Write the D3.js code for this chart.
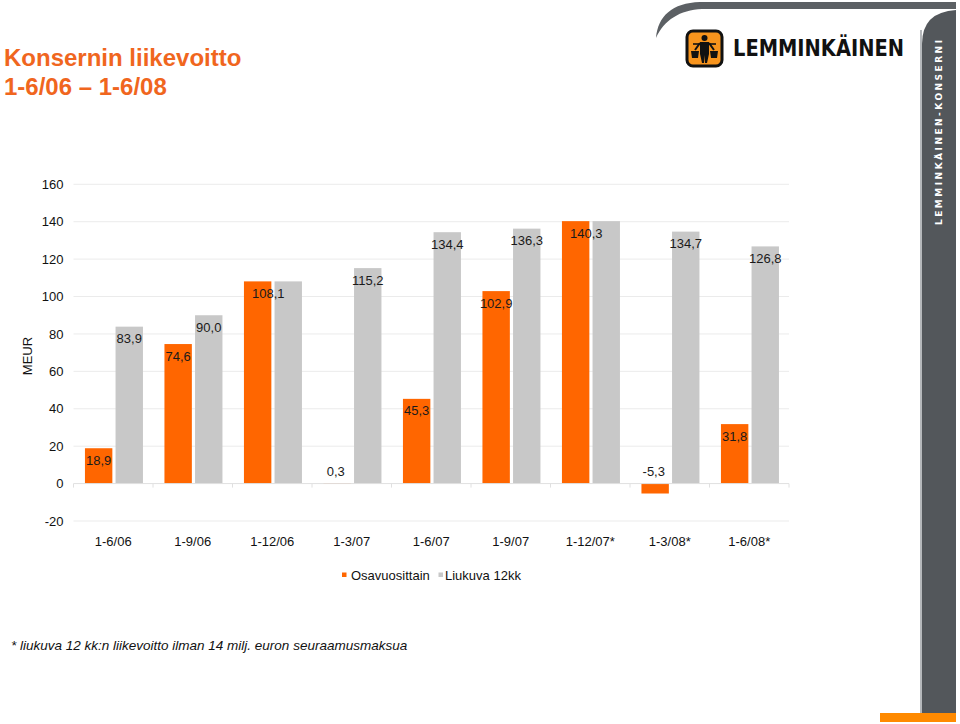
<!DOCTYPE html>
<html>
<head>
<meta charset="utf-8">
<script src="https://cdn.jsdelivr.net/npm/d3@7"></script>
<style>
  html, body { margin: 0; padding: 0; background: #fff; }
  svg { display: block; font-family: Arial, "Liberation Sans", Helvetica, sans-serif; }
</style>
</head>
<body>
<svg id="chart" width="960" height="724"></svg>
<script>
const categories = ["1-6/06", "1-9/06", "1-12/06", "1-3/07", "1-6/07", "1-9/07", "1-12/07*", "1-3/08*", "1-6/08*"];
const osavuosittain = [18.9, 74.6, 108.1, 0.3, 45.3, 102.9, 140.3, -5.3, 31.8];
const liukuva = [83.9, 90.0, 108.1, 115.2, 134.4, 136.3, 140.3, 134.7, 126.8];
const yTicks = [-20, 0, 20, 40, 60, 80, 100, 120, 140, 160];
const seriesNames = ["Osavuosittain", "Liukuva 12kk"];
const titleLines = ["Konsernin liikevoitto", "1-6/06 \u2013 1-6/08"];
const footnote = "* liukuva 12 kk:n liikevoitto ilman 14 milj. euron seuraamusmaksua";

const ORANGE = "#FF6600";
const GRAY = "#C8C8C8";
const DARK = "#53575B";

const locale = d3.formatLocale({ decimal: ",", thousands: " ", grouping: [3], currency: ["", " €"], minus: "-" });
const fmt = locale.format(".1f");
const fmtInt = locale.format("d");

const svg = d3.select("#chart");

// ---------- decoration: header swoosh, sidebar, bottom strip ----------
svg.append("path")
  .attr("d", "M656,38 C658,16 672,3 700,2 L956,2 L956,9 L702,9 C680,10 664,20 656,38 Z")
  .attr("fill", "#5C6064");
svg.append("rect").attr("x", 920).attr("y", 30).attr("width", 2).attr("height", 684).attr("fill", "#B5B8BB");
svg.append("path")
  .attr("d", "M922,713 L922,44 Q922,12 956,10 L956,713 Z")
  .attr("fill", DARK);
svg.append("rect").attr("x", 880).attr("y", 713).attr("width", 76).attr("height", 9).attr("fill", "#FF8A00");
svg.append("text")
  .attr("transform", "translate(942,225) rotate(-90)")
  .attr("fill", "#fff").attr("font-size", 9).attr("font-weight", "bold")
  .attr("font-family", "'DejaVu Sans', Arial, sans-serif")
  .attr("textLength", 185).attr("lengthAdjust", "spacing")
  .text("LEMMINKÄINEN-KONSERNI");

// ---------- logo ----------
const logo = svg.append("g").attr("transform", "translate(686,30)");
logo.append("rect").attr("x", 1).attr("y", 1).attr("width", 35).attr("height", 35).attr("rx", 6)
  .attr("fill", "#F7941D").attr("stroke", "#111").attr("stroke-width", 3);
logo.append("circle").attr("cx", 18.5).attr("cy", 8).attr("r", 3).attr("fill", "#111");
logo.append("path").attr("d", "M14,12 L23,12 L23,24 L21,33 L19,33 L18.5,25 L18,33 L16,33 L14,24 Z").attr("fill", "#111");
logo.append("path").attr("d", "M7,14 L30,14").attr("stroke", "#111").attr("stroke-width", 1.6);
logo.append("path").attr("d", "M14,13 L9,20 M23,13 L28,20").attr("stroke", "#111").attr("stroke-width", 2);
logo.append("path").attr("d", "M5,21 L13,21 L12,28 L6,28 Z M24,21 L32,21 L31,28 L25,28 Z").attr("fill", "#111");
svg.append("text")
  .attr("x", 733).attr("y", 56)
  .attr("font-size", 23).attr("font-weight", "bold").attr("fill", "#111")
  .attr("font-family", "'DejaVu Sans', Arial, sans-serif")
  .attr("textLength", 171).attr("lengthAdjust", "spacingAndGlyphs")
  .text("LEMMINKÄINEN");

// ---------- title ----------
svg.append("text").attr("x", 4).attr("y", 66).attr("font-size", 24).attr("font-weight", "bold")
  .attr("fill", "#F0661E").text(titleLines[0]);
svg.append("text").attr("x", 4).attr("y", 95).attr("font-size", 24).attr("font-weight", "bold")
  .attr("fill", "#F0661E").text(titleLines[1]);

// ---------- scales ----------
const x = d3.scaleBand().domain(categories).range([73.5, 789]).paddingInner(0).paddingOuter(0);
const y = d3.scaleLinear().domain([-20, 160]).range([521, 184.3]);
const bw = 27.4;

// gridlines
svg.append("g").selectAll("line").data(yTicks.filter(t => t !== 0)).join("line")
  .attr("x1", 73.5).attr("x2", 789).attr("y1", d => y(d)).attr("y2", d => y(d))
  .attr("stroke", "#EBEBEB").attr("stroke-width", 1);

// y axis labels
const yAxis = d3.axisLeft(y).tickValues(yTicks).tickSize(0).tickPadding(0).tickFormat(fmtInt);
svg.append("g").attr("transform", "translate(63.5,0)").call(yAxis)
  .call(g => g.select(".domain").remove())
  .call(g => g.selectAll("text").attr("font-size", 13).attr("fill", "#111").attr("font-family", "Arial, 'Liberation Sans', sans-serif"));

svg.append("text").attr("transform", "translate(32,356) rotate(-90)")
  .attr("text-anchor", "middle").attr("font-size", 13).attr("fill", "#111").text("MEUR");

// bars
const cx = c => x(c) + x.bandwidth() / 2;
svg.append("g").selectAll("rect").data(categories).join("rect")
  .attr("x", c => cx(c) + 2.3).attr("width", bw)
  .attr("y", (c, i) => y(Math.max(0, liukuva[i])))
  .attr("height", (c, i) => Math.abs(y(liukuva[i]) - y(0)))
  .attr("fill", GRAY);
svg.append("g").selectAll("rect").data(categories).join("rect")
  .attr("x", c => cx(c) - 28.3).attr("width", bw)
  .attr("y", (c, i) => y(Math.max(0, osavuosittain[i])))
  .attr("height", (c, i) => Math.abs(y(osavuosittain[i]) - y(0)))
  .attr("fill", ORANGE);

// zero line with category ticks
svg.append("line").attr("x1", 73.5).attr("x2", 789).attr("y1", y(0)).attr("y2", y(0))
  .attr("stroke", "#E0E0E0").attr("stroke-width", 1);
svg.append("g").selectAll("line").data(categories.concat(["__end"])).join("line")
  .attr("x1", (c, i) => 73.5 + i * x.bandwidth()).attr("x2", (c, i) => 73.5 + i * x.bandwidth())
  .attr("y1", y(0)).attr("y2", y(0) + 4)
  .attr("stroke", "#E0E0E0");

// x axis labels
const xAxis = d3.axisBottom(x).tickSize(0).tickPadding(0);
svg.append("g").attr("transform", "translate(0,546)").call(xAxis)
  .call(g => g.select(".domain").remove())
  .call(g => g.selectAll("text").attr("dy", 0).attr("font-size", 13).attr("fill", "#111").attr("font-family", "Arial, 'Liberation Sans', sans-serif"));

// data labels
const labels = [];
categories.forEach((c, i) => {
  const a = osavuosittain[i], b = liukuva[i];
  if (a === b) {
    labels.push({ x: cx(c) - 4, y: y(a) + 12, t: fmt(a) });
    return;
  }
  if (Math.abs(a) < 10) labels.push({ x: cx(c) - 16, y: y(0) - 12, t: fmt(a) });
  else labels.push({ x: cx(c) - 14.6, y: y(a) + 12, t: fmt(a) });
  labels.push({ x: cx(c) + 16, y: y(b) + 12, t: fmt(b) });
});
svg.append("g").selectAll("text").data(labels).join("text")
  .attr("x", d => d.x).attr("y", d => d.y).attr("dy", "0.35em")
  .attr("text-anchor", "middle").attr("font-size", 13).attr("fill", "#1a1a1a")
  .text(d => d.t);

// legend
const legend = svg.append("g");
const legX = [342, 438.5];
const legTX = [351, 445];
seriesNames.forEach((n, i) => {
  legend.append("rect").attr("x", legX[i]).attr("y", 572.5).attr("width", 4.5).attr("height", 4.5)
    .attr("fill", i === 0 ? ORANGE : GRAY);
  legend.append("text").attr("x", legTX[i]).attr("y", 579.5).attr("font-size", 13).attr("fill", "#111").text(n);
});

// footnote
svg.append("text").attr("x", 11).attr("y", 650).attr("font-size", 13.5).attr("font-style", "italic")
  .attr("fill", "#111").text(footnote);
</script>
</body>
</html>
